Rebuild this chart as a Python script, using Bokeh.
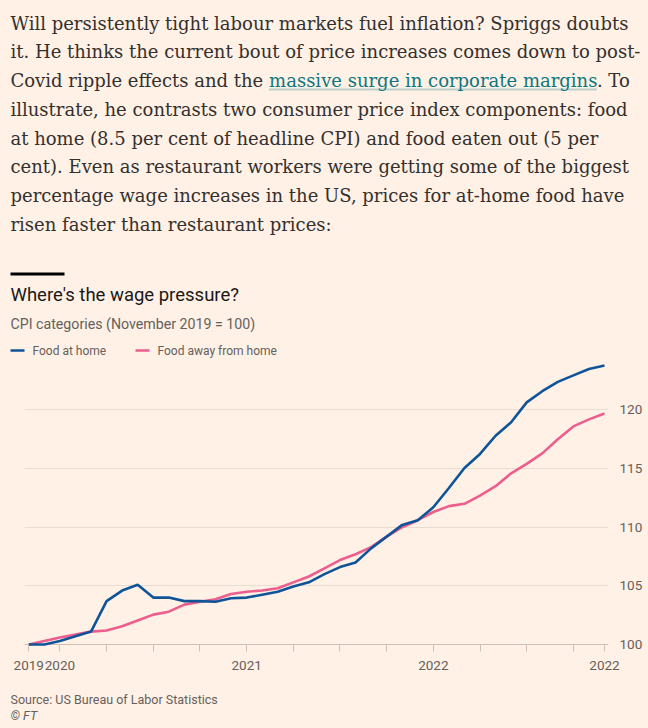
from bokeh.plotting import figure
from bokeh.models import (Range1d, Label, BoxAnnotation, FixedTicker, Grid,
                          ColumnDataSource)
from bokeh.embed import file_html
from bokeh.resources import INLINE

# ---------------- data ----------------
months = ["2019-11", "2019-12",
          "2020-01", "2020-02", "2020-03", "2020-04", "2020-05", "2020-06",
          "2020-07", "2020-08", "2020-09", "2020-10", "2020-11", "2020-12",
          "2021-01", "2021-02", "2021-03", "2021-04", "2021-05", "2021-06",
          "2021-07", "2021-08", "2021-09", "2021-10", "2021-11", "2021-12",
          "2022-01", "2022-02", "2022-03", "2022-04", "2022-05", "2022-06",
          "2022-07", "2022-08", "2022-09", "2022-10", "2022-11", "2022-12"]

food_at_home = [100.0, 100.0,
                100.3, 100.7, 101.1, 103.7, 104.6, 105.1,
                104.0, 104.0, 103.7, 103.7, 103.65, 103.95,
                104.0, 104.25, 104.5, 104.95, 105.3, 106.0,
                106.6, 107.0, 108.2, 109.2, 110.2, 110.6,
                111.7, 113.35, 115.05, 116.25, 117.8, 118.95,
                120.65, 121.6, 122.4, 122.95, 123.5, 123.8]

food_away_from_home = [100.0, 100.3,
                       100.6, 100.85, 101.1, 101.2, 101.55, 102.05,
                       102.55, 102.8, 103.4, 103.65, 103.85, 104.3,
                       104.5, 104.6, 104.8, 105.3, 105.8, 106.5,
                       107.2, 107.7, 108.3, 109.2, 110.0, 110.6,
                       111.3, 111.8, 112.0, 112.7, 113.5, 114.6,
                       115.4, 116.3, 117.5, 118.6, 119.2, 119.7]

series_names = ["Food at home", "Food away from home"]
y_ticks = [100, 105, 110, 115, 120]
x_tick_labels = {"2019-11": "2019", "2020-01": "2020", "2021-01": "2021",
                 "2022-01": "2022", "2022-12": "2022"}

paragraph = [
    "Will persistently tight labour markets fuel inflation? Spriggs doubts",
    "it. He thinks the current bout of price increases comes down to post-",
    ["Covid ripple effects and the ", "massive surge in corporate margins", ". To"],
    "illustrate, he contrasts two consumer price index components: food",
    "at home (8.5 per cent of headline CPI) and food eaten out (5 per",
    "cent). Even as restaurant workers were getting some of the biggest",
    "percentage wage increases in the US, prices for at-home food have",
    "risen faster than restaurant prices:",
]
title = "Where's the wage pressure?"
subtitle = "CPI categories (November 2019 = 100)"
source_note = "Source: US Bureau of Labor Statistics"
credit = "\u00a9 FT"

# ---------------- style ----------------
BG = "#FFF1E5"
TEXT = "#33302E"
GREY = "#66605C"
LINK = "#0D7680"
BLUE = "#0F5499"
PINK = "#EB5E8D"
GRID = "#E9DCD0"
AXIS = "#CDC2B7"
SANS = "Roboto"
SERIF = "DejaVu Serif"
W = 648
LW = 2.6


def canvas(h):
    p = figure(width=W, height=h, x_range=Range1d(0, W), y_range=Range1d(h, 0),
               output_backend="svg", toolbar_location=None,
               x_axis_location=None, y_axis_location=None, min_border=0,
               outline_line_color=None, background_fill_color=BG,
               border_fill_color=BG)
    p.grid.visible = False
    return p


def label(p, x, y, text, font, size, color, style="normal"):
    p.add_layout(Label(x=x, y=y, text=text, text_font=font,
                       text_font_size=size, text_color=color,
                       text_font_style=style, text_baseline="middle"))


def bar(p, left, right, top, bottom, color, alpha=1.0):
    p.add_layout(BoxAnnotation(left=left, right=right, top=top, bottom=bottom,
                               fill_color=color, fill_alpha=alpha,
                               line_color=None))


# ---------------- header (text, title, legend) ----------------
A_H = 358
pA = canvas(A_H)
mid0, step = 22.7, 28.7
for i, line in enumerate(paragraph):
    ym = mid0 + i * step
    if isinstance(line, list):
        xs = [10, 268.6, 596.4]
        cols = [TEXT, LINK, TEXT]
        for txt, xx, cc in zip(line, xs, cols):
            label(pA, xx, ym, txt, SERIF, "18px", cc)
        bar(pA, 268.6, 596.4, 88.0, 90.0, LINK, 0.28)
    else:
        label(pA, 10, ym, line, SERIF, "18px", TEXT)

bar(pA, 10, 64, 272, 275, "#000000")
label(pA, 10, 294.0, title, SANS, "18.5px", "#1A1817")
label(pA, 10, 323.0, subtitle, SANS, "14.2px", GREY)

# legend (swatch + label for each series)
for (sx, tx), name, col in zip([(10, 32), (135, 157)], series_names, [BLUE, PINK]):
    bar(pA, sx, sx + 14, 350 - LW / 2, 350 + LW / 2, col)
    label(pA, tx, 350, name, SANS, "12px", GREY)

# ---------------- chart ----------------
xs_idx = list(range(len(months)))
src = ColumnDataSource(dict(x=xs_idx, home=food_at_home,
                            away=food_away_from_home, month=months))

B_H = 326
pB = figure(width=W, height=B_H,
            x_range=Range1d(-0.276, len(months) - 1 + 0.257),
            y_range=Range1d(99.659, 124.39),
            output_backend="svg", toolbar_location=None,
            x_axis_location="below", y_axis_location="right",
            min_border_left=24, min_border_right=40, min_border_top=0,
            min_border_bottom=36, outline_line_color=None,
            background_fill_color=BG, border_fill_color=BG)

r_away = pB.line("x", "away", source=src, line_color=PINK, line_width=LW)
r_home = pB.line("x", "home", source=src, line_color=BLUE, line_width=LW)

# y axis (right)
pB.yaxis.ticker = FixedTicker(ticks=y_ticks)
pB.yaxis.axis_line_color = None
pB.yaxis.major_tick_line_color = None
pB.yaxis.minor_tick_line_color = None
pB.yaxis.major_label_standoff = 5
pB.yaxis.major_label_text_font = SANS
pB.yaxis.major_label_text_font_size = "13.5px"
pB.yaxis.major_label_text_color = GREY

# x axis
tick_idx = [i for i, m in enumerate(months)
            if int(m[5:]) in (1, 4, 7, 10) or i in (0, len(months) - 1)]
pB.xaxis.ticker = FixedTicker(ticks=tick_idx)
pB.xaxis.major_label_overrides = {i: x_tick_labels.get(months[i], "") for i in tick_idx}
pB.xaxis.axis_line_color = None
pB.xaxis.major_tick_in = 4
pB.xaxis.major_tick_out = 3
pB.xaxis.major_tick_line_color = AXIS
pB.xaxis.minor_tick_line_color = None
pB.xaxis.major_label_standoff = 9
pB.xaxis.major_label_text_font = SANS
pB.xaxis.major_label_text_font_size = "13.5px"
pB.xaxis.major_label_text_color = GREY

pB.xgrid.visible = False
pB.ygrid.ticker = FixedTicker(ticks=y_ticks)
pB.ygrid.grid_line_color = GRID
pB.ygrid.grid_line_width = 1
base_grid = Grid(dimension=1, ticker=FixedTicker(ticks=y_ticks[:1]),
                 grid_line_color=AXIS, grid_line_width=1)
pB.add_layout(base_grid)

# ---------------- footer ----------------
C_H = 40
pC = canvas(C_H)
label(pC, 10, 15, source_note, SANS, "12.5px", GREY)
label(pC, 10, 31, credit, SANS, "12.5px", GREY, "italic")

html = file_html([pA, pB, pC], INLINE, title=title)
html = html.replace("</head>", "<style>html,body{background:#FFF1E5;}</style></head>", 1)
open("out.html", "w").write(html)
